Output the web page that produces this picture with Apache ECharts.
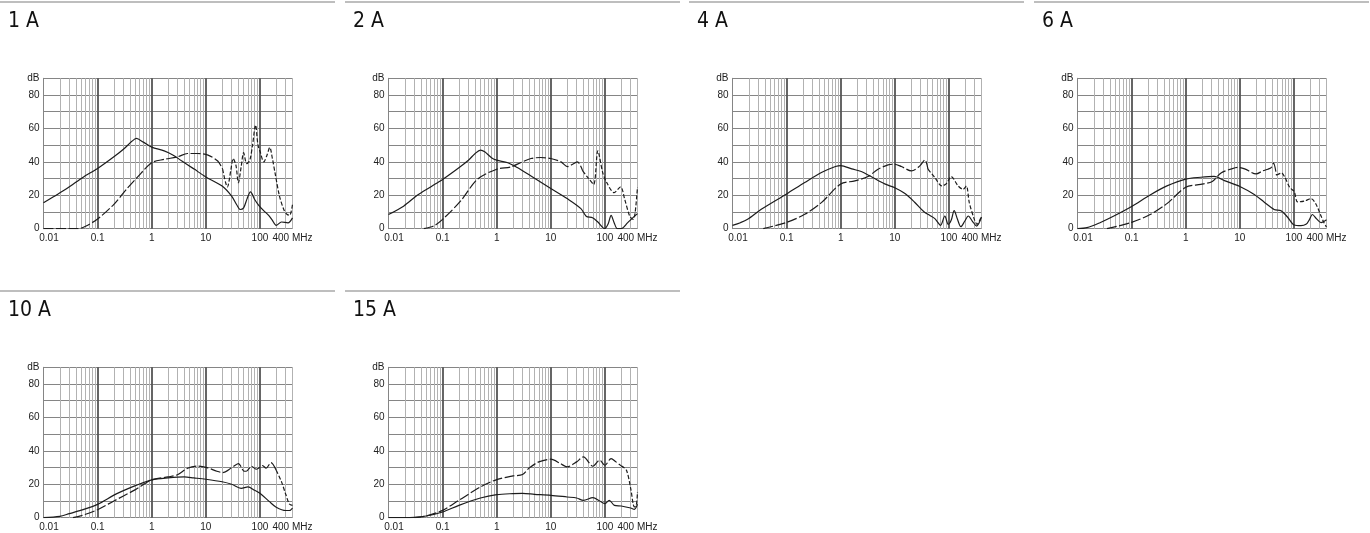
<!DOCTYPE html>
<html><head><meta charset="utf-8">
<script src="https://cdn.jsdelivr.net/npm/echarts@6/dist/echarts.min.js"></script>
<style>html,body{margin:0;padding:0;background:#fff;}#c{width:1370px;height:533px;}</style>
</head><body><div id="c"></div>
<script>
// ---------- texts and ticks ----------
const panelTitles = ['1 A', '2 A', '4 A', '6 A', '10 A', '15 A'];
const xTickValues = [0.01, 0.1, 1, 10, 100, 400];
const xTickLabels = ['0.01', '0.1', '1', '10', '100', '400 MHz'];
const yTickValues = [0, 20, 40, 60, 80, 90];
const yTickLabels = ['0', '20', '40', '60', '80', 'dB'];

// ---------- data: [frequency MHz, dB] ----------
const solid1A = [[0.01,15.5],[0.015,19],[0.027,24],[0.055,31],[0.1,36],[0.2,43],[0.3,47.5],[0.43,52.3],[0.52,54],[0.7,51.8],[1,48.8],[1.7,46.6],[2.5,44],[3.5,40.8],[6,35.8],[10,31],[20,25.5],[30,19.5],[37,14.5],[43,11.5],[50,12.5],[58,18],[67,22],[80,17.5],[95,14],[120,10.5],[145,8],[170,5],[200,2],[250,4],[330,3.5],[400,6.5]];
const dashed1A = [[0.01,0],[0.044,0],[0.06,1.5],[0.1,5.8],[0.2,14.6],[0.35,24],[0.55,31],[1,39.5],[1.7,41.5],[3,43],[4.6,45],[7,45],[11,44],[16.6,40.5],[20.5,35.5],[25,25],[29,35],[32,42],[36,38],[40,27.5],[45,37],[50,45.5],[57,39],[65,41],[73,50],[83,62],[92,50],[100,46.5],[118,40],[135,44],[152,48.6],[170,42],[190,33.5],[230,19.5],[280,11],[320,8.5],[355,8],[400,14.6]];
const solid2A = [[0.01,8.5],[0.019,13.5],[0.034,20],[0.06,25],[0.1,29.5],[0.2,36.5],[0.3,41],[0.4,45],[0.5,47],[0.6,46],[0.8,42.5],[1,41],[1.6,39.5],[2.4,36.6],[4.3,31.5],[10,24],[20,18],[36,12],[45,7.5],[59,6.5],[74,4],[99,0],[115,3],[130,8],[148,3.6],[170,0],[200,0],[264,3.6],[330,6.6],[400,9]];
const dashed2A = [[0.045,0],[0.068,1.6],[0.1,5.6],[0.216,16.6],[0.44,29.6],[1,35.6],[1.83,37],[2.8,39.6],[4.3,42],[6.5,42.6],[10,42],[15.4,40],[20.3,37.2],[25.4,38.6],[31,40],[38.8,34.6],[50,30],[62,26.5],[74,46.6],[91,33.6],[108,27.6],[148,21.6],[195,25],[232,17.6],[287,7.6],[332,5.6],[360,9],[400,25]];
const solid4A = [[0.01,2],[0.014,3.6],[0.019,5.6],[0.034,11.6],[0.1,20.8],[0.216,27.6],[0.44,33.6],[0.8,37.2],[1,37.8],[1.6,35.8],[2.4,34.2],[3.5,31.5],[6.5,26.8],[10,24.5],[15.4,21],[23,16],[35,10],[44,8],[55,6],[70,2],[84,7.6],[97,2.6],[110,5],[125,10.8],[144,5.6],[166,1.2],[197,4.6],[228,7.6],[270,4.6],[325,1.6],[400,7]];
const dashed4A = [[0.037,0],[0.1,3.8],[0.216,8.6],[0.44,15.6],[1,26.8],[1.83,28.6],[3.2,31.2],[4.9,35.6],[7.5,38.2],[9.6,38.6],[13.2,37.2],[20.3,34.6],[29,37.6],[36,41.2],[41,35.6],[55,30.6],[74,25.6],[90,27],[110,31.2],[148,25.6],[183,23.6],[210,25.5],[238,15.6],[295,5.6],[330,2.6],[400,7.5]];
const solid6A = [[0.01,0],[0.015,0.6],[0.026,3.6],[0.047,7.6],[0.1,13.3],[0.22,20.2],[0.45,25.6],[1,29.7],[1.9,30.8],[3.35,31.3],[5.2,28.8],[10,25.3],[18.5,20.5],[28,16],[43,11.5],[58,10.8],[76,7],[101,2.2],[135,1.8],[170,2.8],[190,5],[220,8.5],[260,6],[317,3.6],[400,5.3]];
const dashed6A = [[0.035,0],[0.1,3.8],[0.22,8.5],[0.45,15],[1,24.8],[1.9,26.5],[3.1,28.3],[4.5,33.3],[7,35.8],[9.1,36.7],[12.3,35.8],[20,32.8],[26.6,34.6],[33,35.6],[38,36.5],[42,39.2],[47.6,32],[59,33.3],[68,30.8],[84,24.6],[101,22.3],[117,16],[157,16.6],[207,18],[256,14.6],[317,7.6],[360,3.5],[400,1]];
const solid10A = [[0.01,0],[0.02,0.8],[0.03,2.4],[0.05,4.5],[0.1,8],[0.2,13.5],[0.3,16.2],[0.5,19.2],[1,22.6],[2,23.8],[4,24.4],[6,23.8],[10,23],[20,21.5],[30,20],[45,17.6],[60,18.4],[80,16.4],[100,14.6],[150,9.6],[200,6.3],[300,4.3],[350,4.3],[400,5.8]];
const dashed10A = [[0.035,0],[0.05,1.2],[0.1,4.8],[0.2,10],[0.3,13],[0.5,16.8],[1,22.6],[2,24.4],[3,25.7],[4.6,29.6],[7,30.9],[10.5,30],[16,27.8],[20.5,27],[30,29.9],[40,32.4],[50,28],[56,27.8],[70,30.8],[85,29],[100,30.2],[112,31.2],[130,29.6],[160,33],[200,28.4],[250,21.6],[300,14],[350,8.2],[400,7.4]];
const solid15A = [[0.01,0],[0.03,0.2],[0.05,1],[0.1,3.4],[0.2,7.4],[0.5,11.8],[1,13.8],[2,14.4],[3,14.5],[5,14],[10,13.4],[20,12.4],[30,11.8],[40,10.4],[60,12],[80,10],[100,8.4],[120,10.4],[150,7.4],[200,7],[300,5.8],[350,5],[400,8]];
const dashed15A = [[0.03,0],[0.05,1],[0.1,4.4],[0.2,10.4],[0.5,18.4],[1,22.8],[2,25],[3,25.8],[4,29.8],[6,33.4],[10,35],[15,32.4],[20,30.4],[30,33.4],[40,36.4],[60,30.8],[80,34.4],[100,31.4],[130,35.4],[160,33.4],[200,31],[250,28.4],[300,17.4],[350,6.4],[380,7.5],[400,15.4]];

const solidCurves = [solid1A, solid2A, solid4A, solid6A, solid10A, solid15A];
const dashedCurves = [dashed1A, dashed2A, dashed4A, dashed6A, dashed10A, dashed15A];

// ---------- styling / layout ----------
const dashBreaks = [22, 38, 40, 45, 200, 220];   // where the long dash turns into a short dash
const colX = [0, 345, 689, 1034];
const rowY = [0, 289];
const plotLeft = 43.5, plotTop = 78.3, plotW = 249, plotH = 150.4;
const lineColor = '#1c1c1c';
const labelFont = "'Liberation Sans', Arial, sans-serif";
const titleFont = "'Liberation Sans Narrow', 'DejaVu Sans Condensed', 'Liberation Sans', sans-serif";

const decades = [0.01, 0.1, 1, 10, 100];
const gridFreqs = [];
decades.forEach(d => { for (let m = 1; m <= 9; m++) { const v = +(m * d).toPrecision(6); if (v > 0.0100001 && v <= 400) gridFreqs.push({v: v, major: m === 1}); } });

function xLabel(v) {
  for (let i = 0; i < xTickValues.length; i++) {
    if (Math.abs(Math.log10(v) - Math.log10(xTickValues[i])) < 0.01) return i === 0 ? '{first|' + xTickLabels[i] + '}' : xTickLabels[i];
  }
  return '';
}
function yLabel(v) {
  const i = yTickValues.indexOf(v);
  return i >= 0 ? yTickLabels[i] : '';
}
function splitAt(arr, f) {
  let k = 0, best = Infinity;
  arr.forEach((p, i) => { const d = Math.abs(Math.log10(p[0]) - Math.log10(f)); if (d < best) { best = d; k = i; } });
  return [arr.slice(0, k + 1), arr.slice(k)];
}

const grids = [], xAxes = [], yAxes = [], series = [], titles = [], graphics = [];
for (let p = 0; p < 6; p++) {
  const r = p < 4 ? 0 : 1, c = p < 4 ? p : p - 4;
  const ox = colX[c], oy = rowY[r];
  grids.push({left: ox + plotLeft, top: oy + plotTop, width: plotW, height: plotH, containLabel: false});
  xAxes.push({
    type: 'log', logBase: 10, gridIndex: p, min: 0.01, max: 400,
    axisLine: {show: true, onZero: false, lineStyle: {color: '#858585', width: 1}},
    axisTick: {show: false}, splitLine: {show: false}, minorSplitLine: {show: false},
    axisLabel: {
      show: true, fontSize: 10, color: '#222', fontFamily: labelFont, margin: 5,
      showMinLabel: true, showMaxLabel: true, formatter: xLabel,
      rich: {first: {fontSize: 10, color: '#222', fontFamily: labelFont, padding: [0, 0, 0, 11]}}
    }
  });
  yAxes.push({
    type: 'value', gridIndex: p, min: 0, max: 90, interval: 10,
    axisLine: {show: true, lineStyle: {color: '#858585', width: 1}},
    axisTick: {show: false},
    splitLine: {show: true, lineStyle: {color: '#858585', width: 1}},
    axisLabel: {show: true, fontSize: 10, color: '#222', fontFamily: labelFont, margin: 4, showMinLabel: true, showMaxLabel: true, formatter: yLabel}
  });
  // vertical log grid lines
  series.push({
    type: 'line', xAxisIndex: p, yAxisIndex: p, data: [[0.01, 0]], showSymbol: false, silent: true,
    lineStyle: {opacity: 0}, z: 1,
    markLine: {
      silent: true, symbol: ['none', 'none'], animation: false, label: {show: false},
      data: gridFreqs.map(g => ({xAxis: g.v, lineStyle: g.major ? {color: '#555', width: 1.8, type: 'solid'} : {color: '#b2b2b2', width: 1, type: 'solid'}}))
    }
  });
  series.push({
    type: 'line', xAxisIndex: p, yAxisIndex: p, data: solidCurves[p], smooth: 0.3, showSymbol: false, z: 10,
    lineStyle: {color: lineColor, width: 1.2, type: 'solid'}
  });
  const parts = splitAt(dashedCurves[p], dashBreaks[p]);
  series.push({
    type: 'line', xAxisIndex: p, yAxisIndex: p, data: parts[0], smooth: 0.3, showSymbol: false, z: 10,
    lineStyle: {color: lineColor, width: 1.2, type: [10, 2.5]}
  });
  series.push({
    type: 'line', xAxisIndex: p, yAxisIndex: p, data: parts[1], smooth: 0.3, showSymbol: false, z: 10,
    lineStyle: {color: lineColor, width: 1.2, type: [4, 2]}
  });
  titles.push({
    text: panelTitles[p], left: ox + 8, top: oy + 10, padding: 0,
    textStyle: {fontSize: 21, fontWeight: 'normal', color: '#111', fontFamily: titleFont, lineHeight: 24}
  });
  graphics.push({
    type: 'line', silent: true, shape: {x1: ox, y1: oy + 2, x2: ox + 335, y2: oy + 2},
    style: {stroke: '#a8a8a8', lineWidth: 1.5}
  });
}

const chart = echarts.init(document.getElementById('c'), null, {renderer: 'canvas'});
chart.setOption({
  animation: false,
  backgroundColor: '#fff',
  title: titles,
  grid: grids,
  xAxis: xAxes,
  yAxis: yAxes,
  series: series,
  graphic: graphics
});
</script>
</body></html>
